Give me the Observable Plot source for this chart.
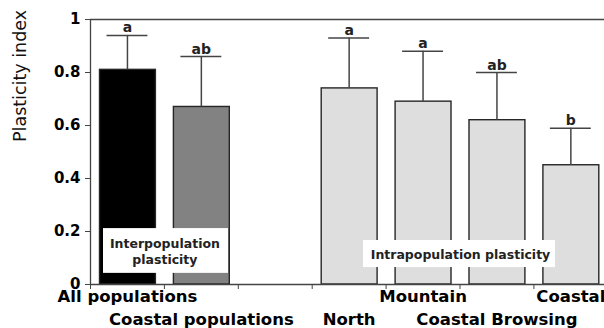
<!DOCTYPE html>
<html><head><meta charset="utf-8">
<script src="https://cdn.jsdelivr.net/npm/d3@7"></script>
<script src="https://cdn.jsdelivr.net/npm/@observablehq/plot@0.6"></script>
<style>body{margin:0;background:#fff}</style>
</head><body><div id="chart"></div>
<script>
// Data
const categories = ["All populations", "Coastal populations", "North", "Mountain", "Coastal Browsing", "Coastal"];
const slots = [0, 1, 3, 4, 5, 6];          // category order along x (slot 2 is the gap)
const slotCount = 7;
const means = [0.81, 0.67, 0.74, 0.69, 0.62, 0.45];
const upper = [0.94, 0.86, 0.93, 0.88, 0.80, 0.59];
const letters = ["a", "ab", "a", "a", "ab", "b"];
const labelRows = [1, 2, 2, 1, 2, 1];
const groups = ["All", "Coastal", "Intra", "Intra", "Intra", "Intra"];
const yTicks = [0, 0.2, 0.4, 0.6, 0.8, 1];
const notes = [
  {text: "Interpopulation\nplasticity", first: 0, last: 1, lo: 0.042, hi: 0.211},
  {text: "Intrapopulation plasticity", first: 3, last: 6, lo: 0.064, hi: 0.166}
];

const rows = categories.map((c, i) => ({
  cat: c, slot: slots[i], mean: means[i], upper: upper[i],
  letter: letters[i], row: labelRows[i], group: groups[i]
}));

const bold = {fontFamily: "DejaVu Sans", fontWeight: "bold"};

const chart = Plot.plot({
  width: 604, height: 328,
  marginTop: 19, marginBottom: 44, marginLeft: 90, marginRight: 0,
  style: {background: "#fff", color: "#000", fontFamily: "DejaVu Sans"},
  x: {domain: [0, slotCount], range: [90, 607.3], axis: null},
  y: {domain: [0, 1], range: [284, 19], axis: null},
  color: {domain: ["All", "Coastal", "Intra"], range: ["#000000", "#828282", "#dedede"]},
  marks: [
    Plot.rectY(rows, {x1: d => d.slot, x2: d => d.slot + 1, y1: 0, y2: d => d.mean,
      fill: d => d.group, stroke: "#262626", strokeWidth: 1.4, insetLeft: 9.5, insetRight: 8.5}),
    Plot.ruleX(rows, {x: d => d.slot + 0.5, y1: d => d.mean, y2: d => d.upper, stroke: "#444", strokeWidth: 1.5}),
    Plot.ruleY(rows, {y: d => d.upper, x1: d => d.slot, x2: d => d.slot + 1,
      insetLeft: 16.5, insetRight: 16.5, stroke: "#444", strokeWidth: 1.5}),
    Plot.text(rows, {x: d => d.slot + 0.5, y: d => d.upper, text: d => d.letter,
      lineAnchor: "bottom", dy: -3, fontSize: 14, ...bold, fill: "#222"}),
    Plot.rect(notes.slice(0, 1), {x1: d => d.first, x2: d => d.last + 1, y1: d => d.lo, y2: d => d.hi,
      fill: "#fff", insetLeft: 13, insetRight: 9.8}),
    Plot.rect(notes.slice(1), {x1: d => d.first, x2: d => d.last + 1, y1: d => d.lo, y2: d => d.hi,
      fill: "#fff", insetLeft: 51.3, insetRight: 52.3}),
    Plot.text(notes, {x: d => (d.first + d.last + 1) / 2, y: d => (d.lo + d.hi) / 2, text: "text",
      fontSize: 12.5, ...bold, fill: "#222", lineHeight: 1.28, lineAnchor: "middle", dx: 0.5}),
    Plot.axisY({ticks: yTicks, tickSize: 5, tickPadding: 5, tickFormat: d => String(+d.toFixed(1)),
      fontSize: 15, ...bold, stroke: "#444", label: null}),
    Plot.axisX({ticks: d3.range(slotCount + 1), tickSize: 5, tickFormat: () => "", stroke: "#444", label: null}),
    Plot.ruleY([0, 1], {stroke: "#444", strokeWidth: 1.3}),
    Plot.ruleX([0], {stroke: "#444", strokeWidth: 1.3}),
    Plot.text(rows.filter(d => d.row === 1), {x: d => d.slot + 0.5, y: 0, text: "cat", dy: 12.5,
      lineAnchor: "middle", fontSize: 16.5, ...bold, fill: "#000"}),
    Plot.text(rows.filter(d => d.row === 2), {x: d => d.slot + 0.5, y: 0, text: "cat", dy: 35,
      lineAnchor: "middle", fontSize: 16.5, ...bold, fill: "#000"}),
    Plot.text(["Plasticity index"], {frameAnchor: "left", dx: -70, dy: -10, rotate: -90,
      fontSize: 17.5, fontFamily: "DejaVu Sans", fill: "#111", lineAnchor: "middle"})
  ]
});
document.getElementById("chart").appendChild(chart);
</script>
</body></html>
